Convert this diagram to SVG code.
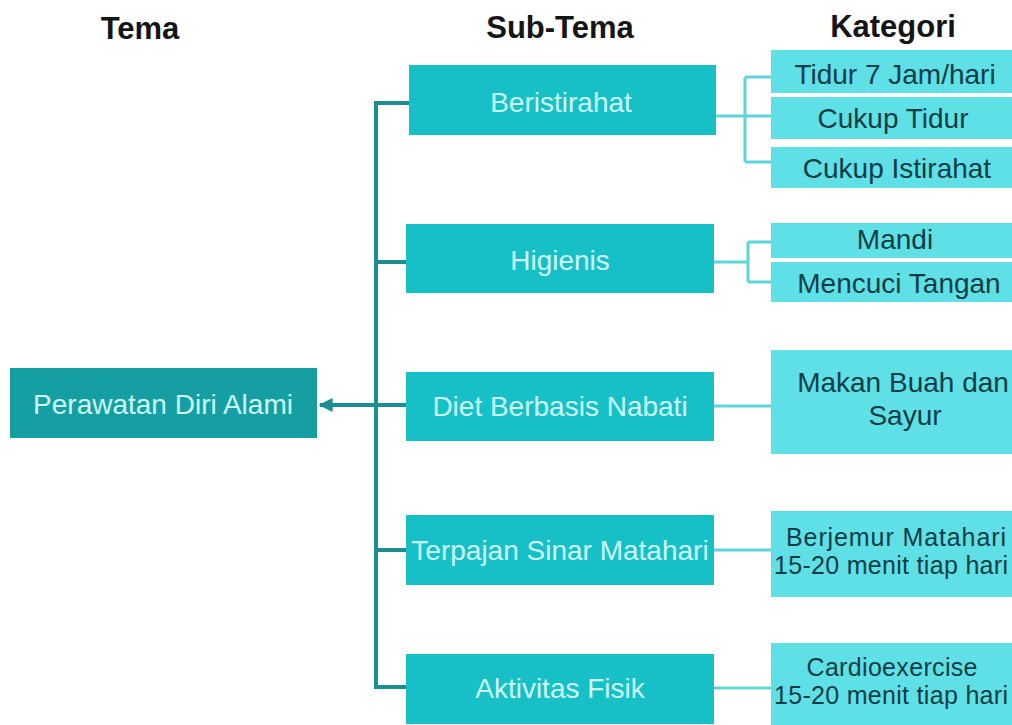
<svg xmlns="http://www.w3.org/2000/svg" width="1012" height="725" viewBox="0 0 1012 725">
<defs>
<style>
.hdr{font-family:"Liberation Sans",Arial,sans-serif;font-weight:bold;font-size:31px;fill:#151515;text-anchor:middle}
.main{fill:#159fa2}
.sub{fill:#17c0c7}
.cat{fill:#5ee0e6}
.lt{font-family:"Liberation Sans",Arial,sans-serif;font-size:28px;fill:#cdfbfb;text-anchor:middle}
.ct{font-family:"Liberation Sans",Arial,sans-serif;font-size:28px;fill:#0f3d45;text-anchor:middle}
.ct2{font-family:"Liberation Sans",Arial,sans-serif;font-size:25px;fill:#0f3d45;text-anchor:middle}
.trunk{stroke:#1a8e90;stroke-width:4;fill:none}
.br{stroke:#5fd4da;stroke-width:3;fill:none}
</style>
<marker id="ah" viewBox="0 0 10 10" refX="9" refY="5" markerWidth="14" markerHeight="16" markerUnits="userSpaceOnUse" orient="auto">
<path d="M0,0 L10,5 L0,10 z" fill="#1a8e90"/>
</marker>
</defs>
<rect width="1012" height="725" fill="#ffffff"/>
<text class="hdr" x="140" y="39">Tema</text>
<text class="hdr" x="560" y="38">Sub-Tema</text>
<text class="hdr" x="893" y="37">Kategori</text>
<g id="connectors">
<path class="trunk" d="M409,103 H376 V687 H406 M376,262 H406 M376,550 H406"/>
<path class="trunk" d="M406,405 H320" marker-end="url(#ah)"/>
<path class="br" d="M716,116 H745 M745,77 V162 M745,77 H771 M745,116 H771 M745,162 H771"/>
<path class="br" d="M714,262 H748 M748,242 V282 M748,242 H771 M748,282 H771"/>
<path class="br" d="M714,406 H771 M714,550 H771 M714,688 H771"/>
</g>
<g id="n-main"><rect class="main" x="10" y="368" width="307" height="70"/><text class="lt" x="163" y="414">Perawatan Diri Alami</text></g>
<g id="n-beristirahat"><rect class="sub" x="409" y="65" width="307" height="70"/><text class="lt" x="561" y="112">Beristirahat</text></g>
<g id="n-higienis"><rect class="sub" x="406" y="224" width="308" height="69"/><text class="lt" x="560" y="270">Higienis</text></g>
<g id="n-diet"><rect class="sub" x="406" y="372" width="308" height="69"/><text class="lt" x="560" y="416">Diet Berbasis Nabati</text></g>
<g id="n-terpajan"><rect class="sub" x="406" y="515" width="308" height="70"/><text class="lt" x="560" y="560">Terpajan Sinar Matahari</text></g>
<g id="n-aktivitas"><rect class="sub" x="406" y="654" width="308" height="70"/><text class="lt" x="560" y="698">Aktivitas Fisik</text></g>
<g id="c-tidur7"><rect class="cat" x="771" y="50" width="260" height="43"/><text class="ct" x="895" y="84">Tidur 7 Jam/hari</text></g>
<g id="c-cukuptidur"><rect class="cat" x="771" y="97" width="260" height="42"/><text class="ct" x="893" y="128">Cukup Tidur</text></g>
<g id="c-cukupistirahat"><rect class="cat" x="771" y="147" width="260" height="41"/><text class="ct" x="897" y="178">Cukup Istirahat</text></g>
<g id="c-mandi"><rect class="cat" x="771" y="223" width="260" height="35"/><text class="ct" x="895" y="249">Mandi</text></g>
<g id="c-mencuci"><rect class="cat" x="771" y="262" width="260" height="40"/><text class="ct" x="899" y="293">Mencuci Tangan</text></g>
<g id="c-makan"><rect class="cat" x="771" y="350" width="260" height="104"/><text class="ct" x="903" y="392">Makan Buah dan</text><text class="ct" x="905" y="425">Sayur</text></g>
<g id="c-berjemur"><rect class="cat" x="771" y="511" width="260" height="86"/><text class="ct2" x="896" y="546" textLength="220" lengthAdjust="spacing">Berjemur Matahari</text><text class="ct2" x="891" y="574" textLength="234" lengthAdjust="spacing">15-20 menit tiap hari</text></g>
<g id="c-cardio"><rect class="cat" x="771" y="643" width="260" height="82"/><text class="ct2" x="892" y="676" textLength="171" lengthAdjust="spacing">Cardioexercise</text><text class="ct2" x="891" y="704" textLength="234" lengthAdjust="spacing">15-20 menit tiap hari</text></g>
</svg>
